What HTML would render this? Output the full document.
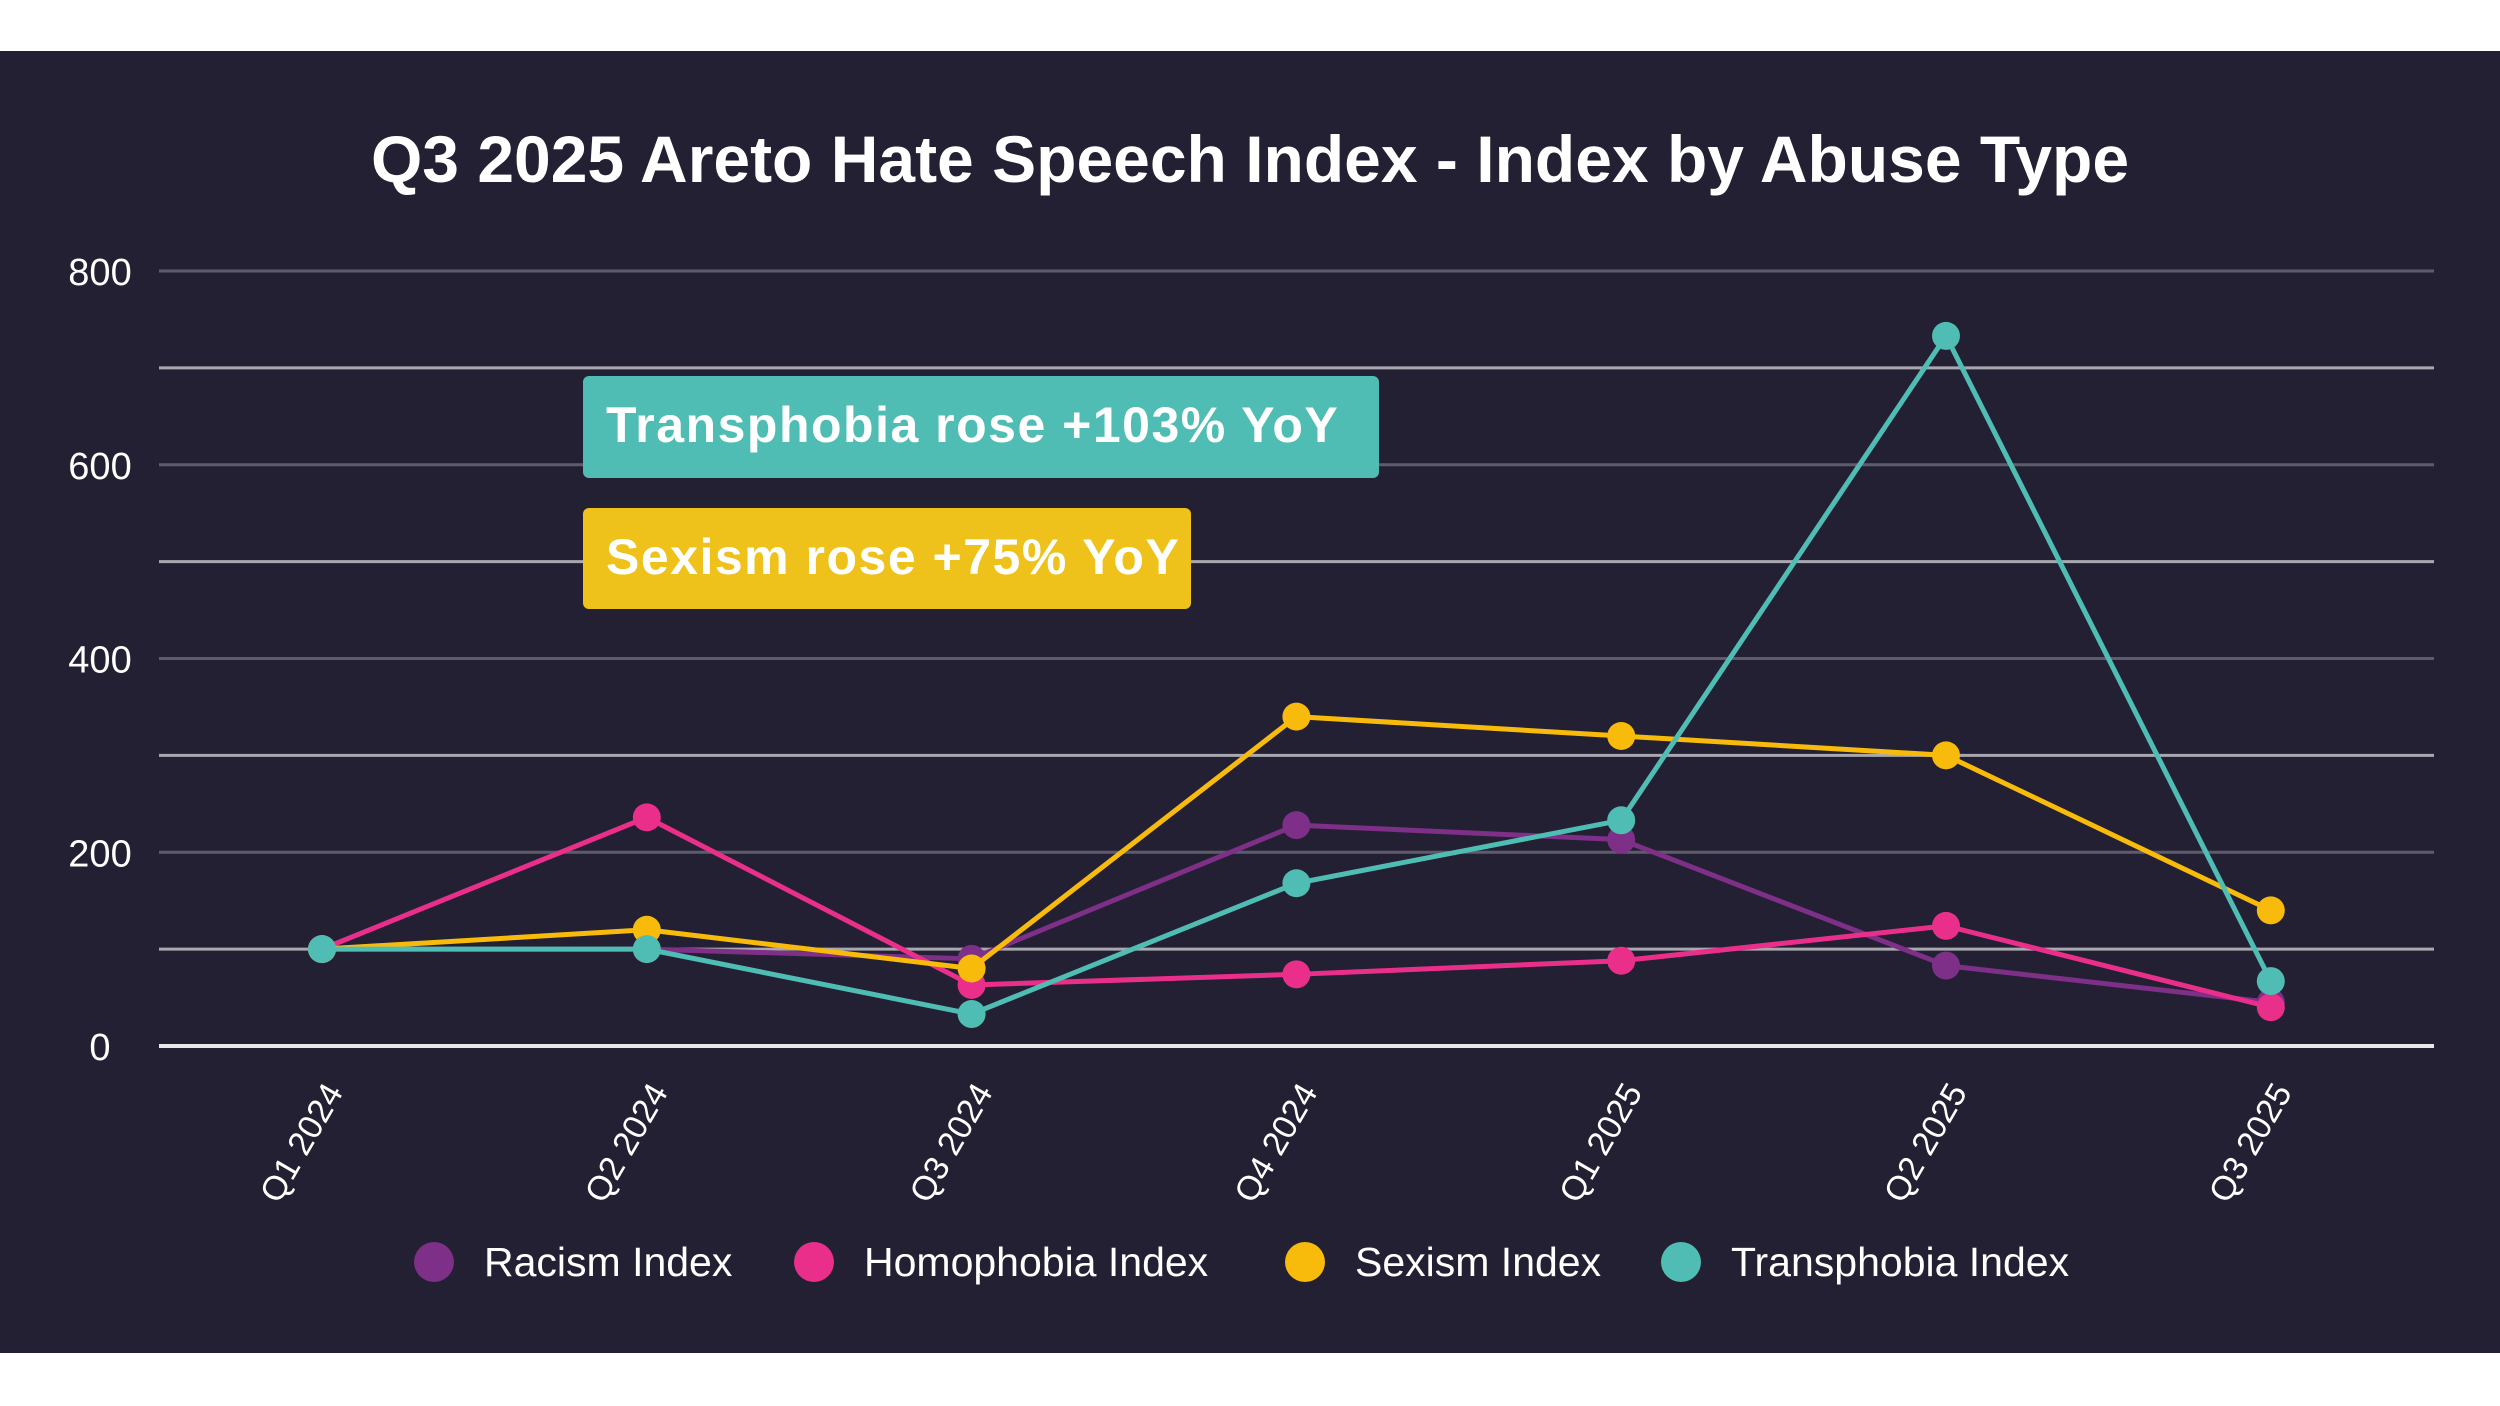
<!DOCTYPE html>
<html><head><meta charset="utf-8"><style>
html,body{margin:0;padding:0;background:#fff;}
svg{display:block;font-family:"Liberation Sans",sans-serif;}
</style></head><body>
<svg id="chart" width="2500" height="1406" viewBox="0 0 2500 1406">
<rect x="0" y="51" width="2500" height="1302" fill="#222032"/>
<text x="1250" y="182" text-anchor="middle" fill="#fff" font-size="66" font-weight="bold">Q3 2025 Areto Hate Speech Index - Index by Abuse Type</text>
<g id="grid"></g><g id="series"></g><g id="xlabels"></g>
<rect x="583" y="376" width="796" height="102" rx="6" fill="#4fbdb4"/>
<text x="606" y="442" fill="#fff" font-size="50" font-weight="bold" letter-spacing="1.5">Transphobia rose +103% YoY</text>
<rect x="583" y="508" width="608" height="101" rx="6" fill="#eec21a"/>
<text x="606" y="574" fill="#fff" font-size="50" font-weight="bold" letter-spacing="1.5">Sexism rose +75% YoY</text>
<g id="legend"></g>
</svg>
<script>
const categories=["Q1 2024","Q2 2024","Q3 2024","Q4 2024","Q1 2025","Q2 2025","Q3 2025"];
const racism=[100,100,90,228,213,83,45];
const homophobia=[100,236,63,74,88,124,40];
const sexism=[100,120,80,340,320,300,140];
const transphobia=[100,100,33,168,233,733,67];
const yTicks=[0,200,400,600,800];
const seriesNames=["Racism Index","Homophobia Index","Sexism Index","Transphobia Index"];
const seriesColors=["#7e2f87","#ea2f8b","#f8bb0c","#4fbdb4"];
const NS="http://www.w3.org/2000/svg";
const y=v=>1046-v*(775/800);
const x=i=>322+i*324.8;
function mk(t,a,p){const e=document.createElementNS(NS,t);for(const k in a)e.setAttribute(k,a[k]);p.appendChild(e);return e;}
const grid=document.getElementById('grid');
for(let v=0;v<=800;v+=100){
  const l=mk('line',{x1:159,x2:2434,y1:y(v),y2:y(v),stroke:v===0?'#e8e8ec':(v%200?'#a8a8b0':'#5e5c6c'),'stroke-width':v===0?4:3},grid);
  
  
}
yTicks.forEach(v=>{const t=mk('text',{x:100,y:y(v)+14,'text-anchor':'middle',fill:'#fff','font-size':38},grid);t.textContent=v;
  
  });
const xl=document.getElementById('xlabels');
categories.forEach((c,i)=>{const t=mk('text',{x:0,y:0,'text-anchor':'end',fill:'#fff','font-size':34,transform:`translate(${x(i)+22},${y(0)+46}) rotate(-60)`},xl);t.textContent=c;
  
  });
const sg=document.getElementById('series');
[racism,homophobia,sexism,transphobia].forEach((d,s)=>{
  const g=mk('g',{},sg);
  
  
  const p=mk('polyline',{points:d.map((v,i)=>x(i)+','+y(v)).join(' '),fill:'none',stroke:seriesColors[s],'stroke-width':5,'stroke-linejoin':'round'},g);
  
  
  d.forEach((v,i)=>{const c=mk('circle',{cx:x(i),cy:y(v),r:14,fill:seriesColors[s]},g);
    
    });
});
const lg=document.getElementById('legend');
const lx=[434,814,1305,1681];
seriesNames.forEach((n,s)=>{
  const g=mk('g',{},lg);
  
  
  mk('circle',{cx:lx[s],cy:1262,r:20,fill:seriesColors[s]},g);
  const t=mk('text',{x:lx[s]+50,y:1276,fill:'#fff','font-size':41},g);t.textContent=n;
});
</script>
</body></html>
